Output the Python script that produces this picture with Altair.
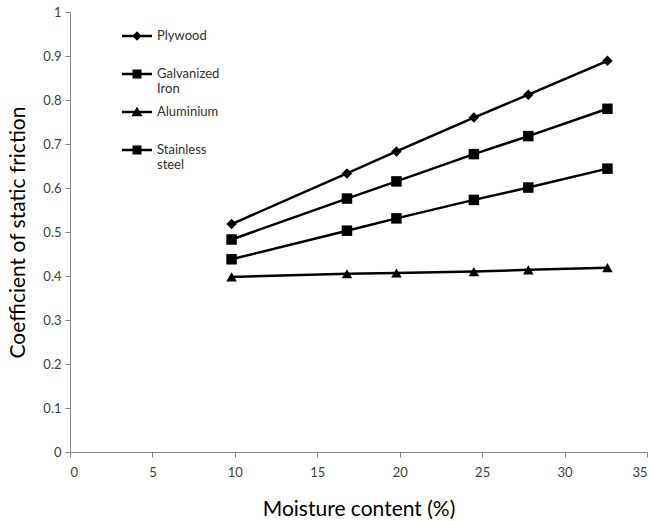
import altair as alt
import pandas as pd

moisture = [9.8, 16.8, 19.8, 24.5, 27.8, 32.6]
series_names = ["Plywood", "Galvanized Iron", "Aluminium", "Stainless steel"]
plywood = [0.518, 0.633, 0.683, 0.760, 0.812, 0.889]
galvanized = [0.483, 0.576, 0.615, 0.677, 0.718, 0.780]
aluminium = [0.398, 0.405, 0.407, 0.410, 0.414, 0.419]
stainless = [0.438, 0.503, 0.531, 0.573, 0.601, 0.644]

values = {
    "Plywood": plywood,
    "Galvanized Iron": galvanized,
    "Aluminium": aluminium,
    "Stainless steel": stainless,
}
rows = []
for name in series_names:
    for x, y in zip(moisture, values[name]):
        rows.append({"series": name, "moisture": x, "cof": y})
df = pd.DataFrame(rows)

FONT = "Lato"

x_enc = alt.X("moisture:Q", scale=alt.Scale(domain=[0, 35], nice=False),
              axis=alt.Axis(values=[0, 5, 10, 15, 20, 25, 30, 35], format="d",
                            labelPadding=9,
                            title="Moisture content (%)", titlePadding=19))
y_enc = alt.Y("cof:Q", scale=alt.Scale(domain=[0, 1], nice=False),
              axis=alt.Axis(values=[i / 10 for i in range(11)], format="~g",
                            title="Coefficient of static friction", titlePadding=14))

base = alt.Chart(df)

lines = base.mark_line(color="black", strokeWidth=2.5).encode(
    x=x_enc, y=y_enc, detail="series:N"
)

points = base.mark_point(filled=True, color="black", opacity=1, size=110).encode(
    x=x_enc, y=y_enc,
    shape=alt.Shape("series:N",
                    scale=alt.Scale(domain=series_names,
                                    range=["diamond", "square", "triangle-up", "square"]),
                    legend=None),
)

# custom legend symbols: a thin filled bar (the line) with the marker in the middle,
# plus an empty zero-area sub-path that evens out the legend row heights
legend_paths = [
    "M-1,-0.083H1V0.083H-1ZM0,-0.31L0.31,0L0,0.31L-0.31,0ZM0,1.53L0,1.53",
    "M-1,-0.083H1V0.083H-1ZM-0.3,-0.3H0.3V0.3H-0.3ZM0,1.53L0,1.53",
    "M-1,-0.083H1V0.083H-1ZM0,-0.35L0.37,0.28H-0.37ZM0,1.53L0,1.53",
    "M-1,-0.083H1V0.083H-1ZM-0.3,-0.3H0.3V0.3H-0.3ZM0,1.53L0,1.53",
]

label_expr = ("datum.label == 'Galvanized Iron' ? ['Galvanized', 'Iron'] : "
              "datum.label == 'Stainless steel' ? ['Stainless', 'steel'] : datum.label")

legend_layer = base.transform_filter("false").mark_point(
    filled=True, color="black", size=900
).encode(
    x=x_enc, y=y_enc,
    shape=alt.Shape("series:N",
                    scale=alt.Scale(domain=series_names, range=legend_paths),
                    legend=alt.Legend(
                        title=None, orient="none", legendX=52, legendY=9,
                        symbolSize=900, symbolStrokeWidth=0,
                        symbolFillColor="black",
                        symbolOpacity=1,
                        labelFont=FONT, labelFontSize=13, labelColor="#303030",
                        labelBaseline="middle", labelOffset=5, rowPadding=0,
                        labelExpr=label_expr,
                    )),
)

chart = alt.layer(lines, points, legend_layer).resolve_scale(
    shape="independent"
).properties(
    width=577, height=440,
    autosize=alt.AutoSizeParams(type="none"),
    padding={"left": 70, "top": 12, "right": 5, "bottom": 69},
).configure_view(stroke=None).configure_axis(
    grid=False,
    domainColor="#868686", tickColor="#868686", tickSize=5,
    labelFont=FONT, labelFontSize=13, labelColor="#404040", labelPadding=4,
    titleFont=FONT, titleFontSize=21, titleFontWeight="normal", titleColor="black",
)

chart.save("out.html", embed_options={"renderer": "svg", "actions": False})
